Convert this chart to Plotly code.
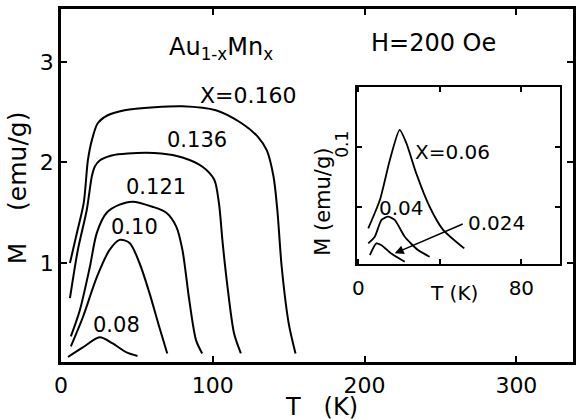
import plotly.graph_objects as go

# ---------------- data ----------------
# main panel: M (emu/g) vs T (K) for Au(1-x)Mn(x), H = 200 Oe
T_160 = [5.9, 10.5, 15.0, 17.7, 20.3, 24.2, 30.8, 41.9, 61.6, 80, 102, 119, 130, 135.6, 140, 142.5, 145.4, 150, 154.5]
M_160 = [1.00, 1.30, 1.60, 2.02, 2.22, 2.39, 2.47, 2.52, 2.55, 2.56, 2.52, 2.39, 2.25, 2.12, 1.86, 1.53, 0.96, 0.40, 0.10]

T_136 = [5.9, 11.1, 17.0, 20.3, 22.3, 25.5, 33.4, 43.9, 66, 80, 93, 100.9, 104, 106.5, 109.4, 114, 118.5]
M_136 = [0.65, 1.13, 1.53, 1.86, 1.96, 2.02, 2.07, 2.09, 2.09, 2.05, 1.96, 1.83, 1.60, 1.20, 0.80, 0.30, 0.10]

T_121 = [6.5, 12.4, 19, 23.6, 30.1, 38.6, 47.2, 60.2, 69.4, 76, 80, 84.5, 89, 93]
M_121 = [0.27, 0.53, 0.96, 1.30, 1.50, 1.58, 1.61, 1.56, 1.50, 1.36, 1.13, 0.63, 0.23, 0.10]

T_100 = [6.5, 14.4, 23.6, 32, 38.6, 45.2, 51.7, 58.3, 64.8, 70]
M_100 = [0.17, 0.46, 0.86, 1.13, 1.23, 1.20, 1.00, 0.70, 0.36, 0.10]

T_080 = [4.6, 14.4, 25.5, 34, 43.2, 50.4]
M_080 = [0.065, 0.16, 0.26, 0.20, 0.11, 0.075]

# inset panel
Ti_060 = [4.9, 10.6, 15.5, 20.3, 23.6, 28.4, 35, 41.5, 52]
Mi_060 = [0.032, 0.0556, 0.089, 0.114, 0.103, 0.078, 0.050, 0.031, 0.0153]

Ti_040 = [4.9, 8.1, 11.4, 14.6, 17.9, 22.8, 29.3, 35]
Mi_040 = [0.0195, 0.025, 0.039, 0.0417, 0.039, 0.025, 0.0139, 0.0083]

Ti_024 = [5.7, 8.9, 11.4, 16.2, 22.8]
Mi_024 = [0.0098, 0.0195, 0.018, 0.011, 0.0042]

main_xticks = [0, 100, 200, 300]
main_yticks = [1, 2, 3]
inset_xticks = [0, 80]
inset_xminor = [40]
inset_yticks = [0.1]
inset_yminor = [0.05]

# ---------------- figure ----------------
FONT = "DejaVu Sans"
fig = go.Figure()

line = dict(color="black", width=2, shape="spline", smoothing=0.8)
for T, M in [(T_160, M_160), (T_136, M_136), (T_121, M_121), (T_100, M_100), (T_080, M_080)]:
    fig.add_trace(go.Scatter(x=T, y=M, mode="lines", line=line, showlegend=False,
                             hoverinfo="skip", xaxis="x", yaxis="y"))

iline = dict(color="black", width=1.8, shape="spline", smoothing=0.6)
for T, M in [(Ti_060, Mi_060), (Ti_040, Mi_040), (Ti_024, Mi_024)]:
    fig.add_trace(go.Scatter(x=T, y=M, mode="lines", line=iline, showlegend=False,
                             hoverinfo="skip", xaxis="x2", yaxis="y2"))

axis_common = dict(showline=True, linecolor="black", mirror="ticks", ticks="inside",
                   tickcolor="black", showgrid=False, zeroline=False)

fig.update_layout(
    width=577, height=420,
    margin=dict(l=61, r=1, t=9, b=58),
    paper_bgcolor="white", plot_bgcolor="white",
    font=dict(family=FONT, color="black"),
    xaxis=dict(range=[0, 337.3], tickvals=main_xticks, ticklen=6, tickwidth=1.5,
               linewidth=2.5, tickfont=dict(size=22, family=FONT), ticklabelstandoff=2,
               domain=[0, 1], **axis_common),
    yaxis=dict(range=[0.015, 3.527], tickvals=main_yticks, ticklen=6, tickwidth=1.5,
               linewidth=2.5, tickfont=dict(size=22, family=FONT), ticklabelstandoff=0,
               domain=[0, 1], **axis_common),
    xaxis2=dict(range=[-0.5, 99], tickvals=inset_xticks,
                ticklen=5, tickwidth=1.5, linewidth=2,
                minor=dict(tickvals=inset_xminor, ticks="inside", ticklen=5, tickwidth=1.5,
                           tickcolor="black", showgrid=False),
                tickfont=dict(size=20, family=FONT), ticklabelstandoff=5,
                domain=[0.5786, 0.9748], anchor="y2", **axis_common),
    yaxis2=dict(range=[0.0023, 0.1495], tickvals=inset_yticks, tickformat=".1f",
                ticklen=5, tickwidth=1.5, linewidth=2, tickangle=-90,
                minor=dict(tickvals=inset_yminor, ticks="inside", ticklen=5, tickwidth=1.5,
                           tickcolor="black", showgrid=False),
                tickfont=dict(size=17, family=FONT), ticklabelstandoff=0,
                domain=[0.2776, 0.7782], anchor="x2", **axis_common),
)

NB = "\u00a0"
ann = []
# axis titles (main)
ann.append(dict(text="T" + NB * 3 + "(K)", xref="paper", yref="paper", x=0.5087, y=-0.1275,
                showarrow=False, font=dict(size=24), xanchor="center", yanchor="middle"))
ann.append(dict(text="M" + NB * 4 + "(emu/g)", xref="paper", yref="paper", x=-0.0854, y=0.4929,
                textangle=-90, showarrow=False, font=dict(size=25), xanchor="center", yanchor="middle"))
# axis titles (inset)
ann.append(dict(text="T (K)", xref="paper", yref="paper", x=0.767, y=0.1955,
                showarrow=False, font=dict(size=20), xanchor="center", yanchor="middle"))
ann.append(dict(text="M (emu/g)", xref="paper", yref="paper", x=0.5126, y=0.455,
                textangle=-90, showarrow=False, font=dict(size=21), xanchor="center", yanchor="middle"))

# main labels
ann.append(dict(text="Au<sub>1-x</sub>Mn<sub>x</sub>", x=105.4, y=3.13, xref="x", yref="y",
                showarrow=False, font=dict(size=24)))
ann.append(dict(text="H=200 Oe", x=245.6, y=3.19, xref="x", yref="y",
                showarrow=False, font=dict(size=24)))
ann.append(dict(text="X=0.160", x=123.8, y=2.67, xref="x", yref="y",
                showarrow=False, font=dict(size=22)))
for txt, xx, yy in [("0.136", 89.7, 2.22), ("0.121", 62.9, 1.76),
                    ("0.10", 48.5, 1.36), ("0.08", 36.7, 0.38)]:
    ann.append(dict(text=txt, x=xx, y=yy, xref="x", yref="y", showarrow=False,
                    font=dict(size=21)))

# inset labels
ann.append(dict(text="X=0.06", x=46.3, y=0.0956, xref="x2", yref="y2",
                showarrow=False, font=dict(size=20)))
ann.append(dict(text="0.04", x=21.0, y=0.0489, xref="x2", yref="y2",
                showarrow=False, font=dict(size=20)))
ann.append(dict(text="0.024", x=67.8, y=0.0364, xref="x2", yref="y2",
                showarrow=False, font=dict(size=20)))
# arrow pointing to the 0.024 curve
ann.append(dict(text="", x=17.9, y=0.0112, xref="x2", yref="y2",
                ax=52, ay=0.0362, axref="x2", ayref="y2",
                showarrow=True, arrowhead=2, arrowsize=1.2, arrowwidth=1.5,
                arrowcolor="black", standoff=0))

fig.update_layout(annotations=ann)
fig.write_html("out.html", config={"displayModeBar": False},
               post_script="document.body.style.margin='0';document.body.style.overflow='hidden';")
